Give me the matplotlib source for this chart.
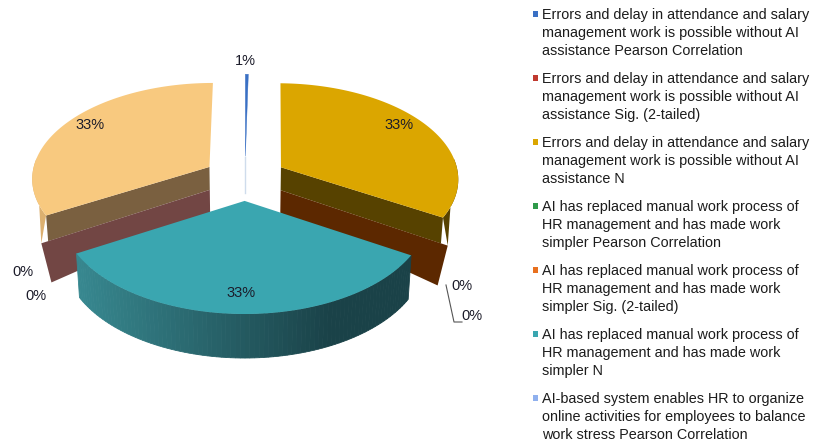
import numpy as np
import matplotlib
matplotlib.use("Agg")
import matplotlib.pyplot as plt
from matplotlib.colors import to_rgb

plt.rcParams['font.family'] = ['Liberation Sans', 'DejaVu Sans']

### the chart values, legend is cut off in the original so only 7 entries show
labels = ["Errors and delay in attendance and salary\nmanagement work is possible without AI\nassistance Pearson Correlation",
          "Errors and delay in attendance and salary\nmanagement work is possible without AI\nassistance Sig. (2-tailed)",
          "Errors and delay in attendance and salary\nmanagement work is possible without AI\nassistance N",
          "AI has replaced manual work process of\nHR management and has made work\nsimpler Pearson Correlation",
          "AI has replaced manual work process of\nHR management and has made work\nsimpler Sig. (2-tailed)",
          "AI has replaced manual work process of\nHR management and has made work\nsimpler N",
          "AI-based system enables HR to organize\nonline activities for employees to balance\nwork stress Pearson Correlation"]
values = [0.3, 0, 33, 0, 0, 33, 0, 0, 33]
colors = ["#3a70c4", "#c0392f", "#dba600", "#2e9a4a", "#e8701e", "#3aa6b0", "#8fb0ee"]
pct_labels = ["1%", "33%", "33%", "33%", "0%", "0%", "0%", "0%"]
pct_x = [245, 399, 241, 90, 462, 472, 23, 36]
pct_y = [61, 125, 293, 125, 286, 316, 272, 296]

### projection of the tilted pie
cx, cy = 245, 178
a, b, k = 178, 95.4, 0.109
explode = 0.234


def proj(t, r, mid, z=0):
    x = explode * np.sin(mid) + r * np.sin(t)
    y = explode * np.cos(mid) + r * np.cos(t)
    w = 1 + k * y
    shrink = 1 - 0.0004 * z
    return cx + a * x / w * shrink, cy - b * y / w + z


def arc(t0, t1, mid, z=0, r=1.0, n=80):
    ts = np.linspace(t0, t1, n)
    return proj(ts, r, mid, z)


def ypos(t, mid, r=1.0):
    return explode * np.cos(mid) + r * np.cos(t)


def cut_layers(ax, t, mid, col1, col2):
    # the two flat layers showing on the cut side of a slice
    apex_y = ypos(t, mid, 0)
    end_y = ypos(t, mid, 1)
    d1a, d1e = 23.6 - 5.7 * apex_y, 23.6 - 5.7 * end_y
    d2a, d2e = 27 - 37.7 * apex_y, 27 - 37.7 * end_y
    p0 = proj(t, 0, mid)
    p1 = proj(t, 1, mid)
    p2 = proj(t, 1, mid, d1e)
    p3 = proj(t, 0, mid, d1a)
    ax.fill([p0[0], p1[0], p2[0], p3[0]], [p0[1], p1[1], p2[1], p3[1]], color=col1, lw=0)
    q1 = proj(t, 1.04, mid, d1e)
    q2 = proj(t, 1.0, mid, d1e + d2e)
    q3 = proj(t, 0, mid, d1a + d2a)
    ax.fill([p3[0], q1[0], q2[0], q3[0]], [p3[1], q1[1], q2[1], q3[1]], color=col2, lw=0)
    return d1e, q1


fig = plt.figure(figsize=(8.13, 4.45), dpi=100)
ax = fig.add_axes([0, 0, 1, 1])
ax.set_xlim(0, 813)
ax.set_ylim(445, 0)
ax.axis("off")

edges = np.cumsum([0] + values) / sum(values) * 2 * np.pi
mids = (edges[:-1] + edges[1:]) / 2

### blue sliver
t0, t1, m = edges[0], edges[1], mids[0]
x, y = arc(t0, t1, m, n=10)
ax.plot([245, 245], [157, 193], color="#cfdcec", lw=1)
ax.fill(np.r_[proj(0, 0, m)[0], x], np.r_[proj(0, 0, m)[1], y], color=colors[0], lw=0.3)

### gold
t0, t1, m = edges[2], edges[3], mids[2]
dz, q = cut_layers(ax, t1, m, "#574200", "#5c2800")
x, y = arc(np.pi * 0.47, t1, m)
ax.fill(np.r_[x, q[0]], np.r_[y, q[1]], color="#574200", lw=0)
x, y = arc(t0, t1, m)
p = proj(0, 0, m)
ax.fill(np.r_[p[0], x], np.r_[p[1], y], color="#dba600", lw=0)

### peach
t0, t1, m = edges[8], edges[9], mids[8]
dz, q = cut_layers(ax, t0, m, "#7a6040", "#724644")
x, y = arc(t0, np.pi * 1.53, m)
ax.fill(np.r_[q[0], x], np.r_[q[1], y], color="#dcb070", lw=0)
x, y = arc(t0, t1, m)
p = proj(0, 0, m)
ax.fill(np.r_[p[0], x], np.r_[p[1], y], color="#f8c97f", lw=0)

### teal, with the shaded rim
t0, t1, m = edges[5], edges[6], mids[5]
ts = np.linspace(t0, t1, 90)
left, right = np.array(to_rgb("#37878f")), np.array(to_rgb("#1a4248"))
for i in range(len(ts) - 1):
    xa, ya = arc(ts[i], ts[i + 1], m, n=3)
    xb, yb = arc(ts[i], ts[i + 1], m, z=44, n=3)
    f = np.clip((xa.mean() - 80) / 250, 0, 1)
    c = left + (right - left) * f
    ax.fill(np.r_[xa, xb[::-1]], np.r_[ya, yb[::-1]], color=c, lw=0.6)
x, y = arc(t0, t1, m)
p = proj(0, 0, m)
ax.fill(np.r_[p[0], x], np.r_[p[1], y], color="#3aa6b0", lw=0)

### data labels
for s, px, py in zip(pct_labels, pct_x, pct_y):
    ax.text(px, py, s, fontsize=10.5, ha="center", va="center", color="#1c1c2a")
ax.plot([446, 454, 462], [285, 322, 322], color="#555555", lw=0.8)

### legend
for i, (s, c) in enumerate(zip(labels, colors)):
    yc = 33 + i * 64
    ax.fill([533, 538, 538, 533], [yc - 22, yc - 22, yc - 16, yc - 16], color=c, lw=0)
    ax.text(542, yc, s, fontsize=10.4, ha="left", va="center", color="#1c1c1c", linespacing=1.34)

fig.savefig("out.png", dpi=100)
